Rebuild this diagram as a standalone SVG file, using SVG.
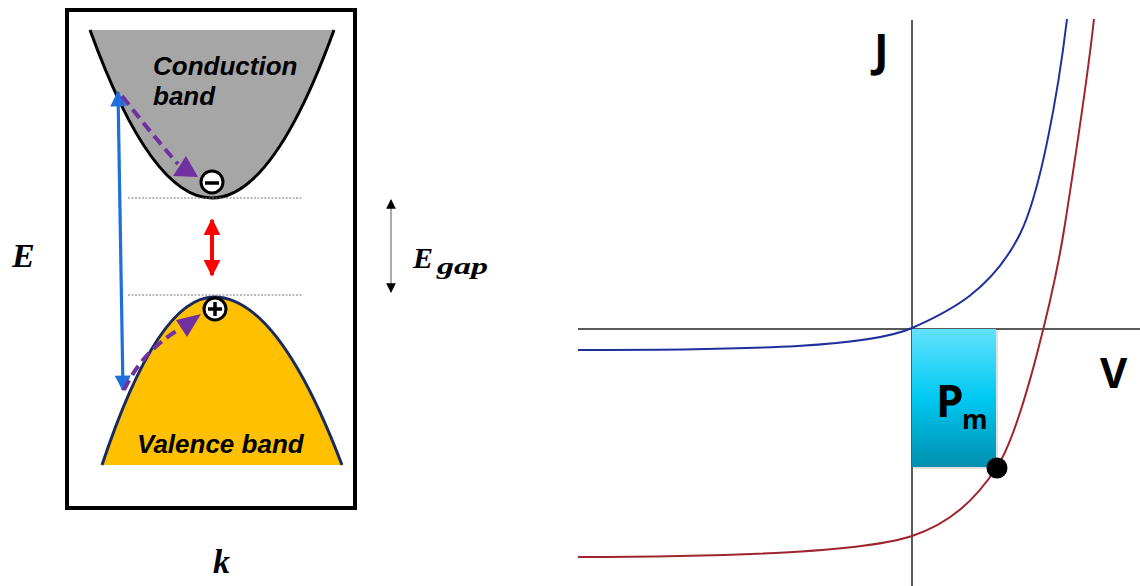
<svg xmlns="http://www.w3.org/2000/svg" width="1140" height="586" viewBox="0 0 1140 586">
<defs>
<style>
.bandtxt{font-family:"Liberation Sans",Arial,sans-serif;font-weight:bold;font-style:italic;font-size:26px;fill:#000}
.math{font-family:"Liberation Serif","DejaVu Serif",serif;font-weight:bold;font-style:italic;fill:#000}
.axlbl{font-family:"Open Sans","Liberation Sans",sans-serif;font-weight:bold;fill:#000}
.dotline{stroke:#777;stroke-width:1;stroke-dasharray:2 1.5;fill:none}
.purple{stroke:#7030a0;stroke-width:4;stroke-dasharray:11 6;fill:none}
.axis{stroke:#5a5a5a;stroke-width:2;fill:none}
</style>
<marker id="ahBlue" viewBox="0 0 10 10" refX="9" refY="5" markerWidth="5.5" markerHeight="5" orient="auto-start-reverse" markerUnits="strokeWidth">
<path d="M0,0 L10,5 L0,10 Z" fill="#1e6fd9"/>
</marker>
<marker id="ahRed" viewBox="0 0 10 10" refX="9" refY="5" markerWidth="4.2" markerHeight="4.2" orient="auto-start-reverse" markerUnits="strokeWidth">
<path d="M0,0 L10,5 L0,10 Z" fill="#ff0000"/>
</marker>
<marker id="ahBlk" viewBox="0 0 10 10" refX="9" refY="5" markerWidth="7" markerHeight="7" orient="auto-start-reverse" markerUnits="strokeWidth">
<path d="M0,0 L10,5 L0,10 Z" fill="#000"/>
</marker>
<linearGradient id="pmGrad" x1="0" y1="0" x2="0" y2="1">
<stop offset="0" stop-color="#62e2fd"/>
<stop offset="0.5" stop-color="#00c9f2"/>
<stop offset="1" stop-color="#008fae"/>
</linearGradient>
</defs>
<rect width="1140" height="586" fill="#fff"/>

<g id="band-diagram">
<rect id="frame" x="67" y="10" width="288" height="498" fill="none" stroke="#000" stroke-width="4"/>
<g id="conduction-band">
<path d="M90,30 Q151,198 212,198 Q273,198 334,30 Z" fill="#a6a6a6" stroke="none"/>
<path d="M90,30 Q151,198 212,198 Q273,198 334,30" fill="none" stroke="#000" stroke-width="3"/>
<text class="bandtxt" x="153" y="75">Conduction</text>
<text class="bandtxt" x="153" y="105">band</text>
</g>
<g id="valence-band">
<path d="M102,465 Q158,297 214,297 Q278,297 342,465 Z" fill="#ffc000" stroke="none"/>
<path d="M102,465 Q158,297 214,297 Q278,297 342,465" fill="none" stroke="#1b2a5e" stroke-width="3"/>
<text class="bandtxt" x="137" y="453">Valence band</text>
</g>
<g id="levels">
<line class="dotline" x1="128" y1="198" x2="303" y2="198"/>
<line class="dotline" x1="128" y1="295" x2="303" y2="295"/>
</g>
<g id="electron">
<circle cx="212" cy="182" r="11" fill="#fff" stroke="#000" stroke-width="3"/>
<line x1="205" y1="183" x2="219" y2="183" stroke="#000" stroke-width="3.5"/>
</g>
<g id="hole">
<circle cx="215" cy="309" r="11" fill="#fff" stroke="#000" stroke-width="3"/>
<line x1="208" y1="309" x2="222" y2="309" stroke="#000" stroke-width="3.5"/>
<line x1="215" y1="302" x2="215" y2="316" stroke="#000" stroke-width="3.5"/>
</g>
<g id="transitions">
<line x1="118" y1="92" x2="123" y2="390" stroke="#1e6fd9" stroke-width="3.2" marker-start="url(#ahBlue)" marker-end="url(#ahBlue)"/>
<line x1="212" y1="220" x2="212" y2="275" stroke="#ff0000" stroke-width="4" marker-start="url(#ahRed)" marker-end="url(#ahRed)"/>
<path class="purple" d="M122,96 Q150,132 178,164"/>
<polygon points="173,176 186,156 198,177" fill="#7030a0"/>
<path class="purple" d="M124,390 Q142,352 178,330"/>
<polygon points="176,320 201,314 187,337" fill="#7030a0"/>
</g>
<g id="egap">
<line x1="391" y1="200" x2="391" y2="292" stroke="#888" stroke-width="1.4" marker-start="url(#ahBlk)" marker-end="url(#ahBlk)"/>
<text class="math" x="413" y="268" font-size="30">E</text>
<text class="math" x="437" y="274" font-size="23" textLength="51" lengthAdjust="spacingAndGlyphs">gap</text>
</g>
<text class="math" x="12" y="267" font-size="34">E</text>
<text class="math" x="213" y="573" font-size="34">k</text>
</g>

<g id="jv-plot">
<g id="axes">
<line class="axis" x1="578" y1="329" x2="1140" y2="329"/>
<line class="axis" x1="912" y1="20" x2="912" y2="586"/>
</g>
<g id="curves">
<path d="M578,350 C760,350 870,346.5 912,328 C950,311.3 992,290 1020,234 C1040,194 1058,94 1067,19" fill="none" stroke="#1f2f9c" stroke-width="2"/>
<path d="M578,557 C760,557 870,550 912,536 C950,523.5 975,500.4 997,467 C1022,429 1055,288 1065,224 C1075,160 1089,64 1094,19" fill="none" stroke="#a0242e" stroke-width="2"/>
</g>
<g id="pm-box">
<rect x="914" y="331" width="84" height="138" fill="#000" opacity="0.12"/>
<rect x="912" y="329" width="84" height="138" fill="url(#pmGrad)"/>
<text class="axlbl" x="936" y="417" font-size="44">P</text>
<text class="axlbl" x="962" y="429" font-size="26">m</text>
</g>
<circle id="max-point" cx="997" cy="468" r="10.5" fill="#000"/>
<text class="axlbl" x="874" y="66" font-size="44">J</text>
<text class="axlbl" x="1100" y="388" font-size="42">V</text>
</g>
</svg>
